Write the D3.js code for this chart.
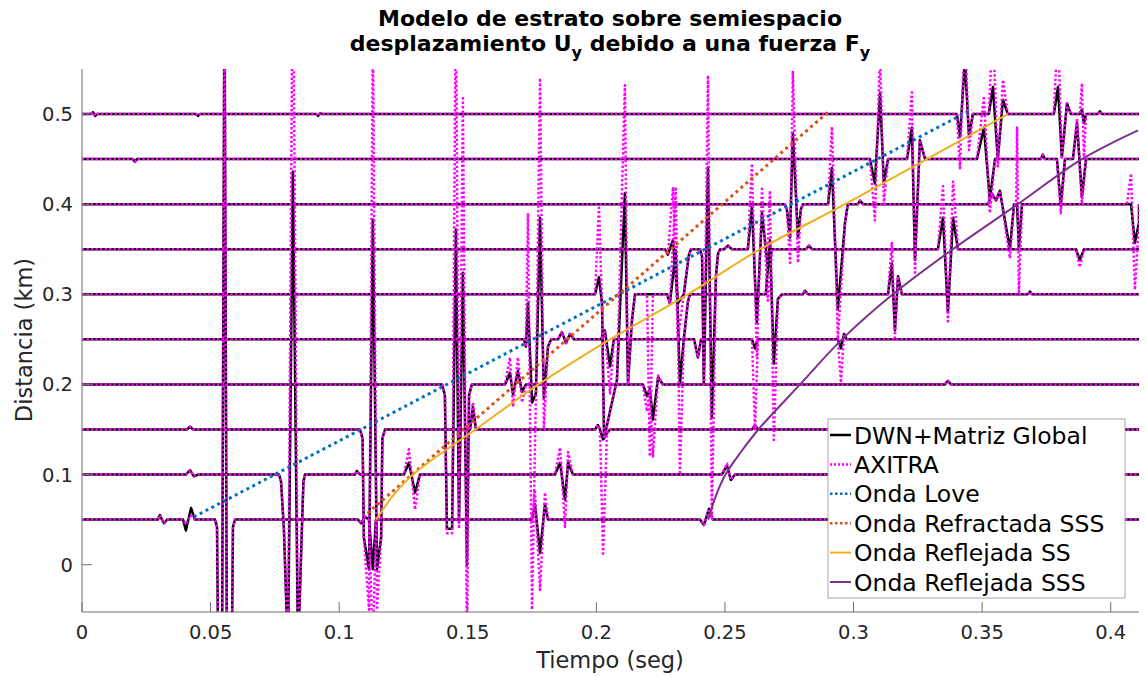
<!DOCTYPE html>
<html><head><meta charset="utf-8">
<script src="https://cdn.jsdelivr.net/npm/d3@7"></script>
<style>body{margin:0;background:#fff;} text{font-family:"DejaVu Sans",sans-serif;}</style>
</head><body><svg id="c" width="1147" height="677"></svg>
<script>
// ---------- data ----------
const distances = [0.05, 0.10, 0.15, 0.20, 0.25, 0.30, 0.35, 0.40, 0.45, 0.50];
const timeTicks = [0, 0.05, 0.1, 0.15, 0.2, 0.25, 0.3, 0.35, 0.4];
const distTicks = [0, 0.1, 0.2, 0.3, 0.4, 0.5];
const legendLabels = ["DWN+Matriz Global", "AXITRA", "Onda Love", "Onda Refractada SSS", "Onda Reflejada SS", "Onda Reflejada SSS"];

// trace vertices: [time (s), offset DWN (km), offset AXITRA (km)]
const trace05 = [
[0.0295,0,0],[0.0303,0.005,0.005],[0.0311,0,0],[0.0319,-0.004,-0.004],[0.0331,0,0],
[0.0393,0,0],[0.0404,-0.012,-0.005],[0.0424,0.013,0.005],[0.0439,0,0],
[0.0517,0,0],[0.0525,-0.008,-0.008],[0.0531,-0.2,-0.2],[0.0544,-0.2,-0.2],[0.0554,0.6,0.6],[0.0564,-0.2,-0.2],[0.0581,-0.2,-0.2],[0.0587,-0.008,-0.008],[0.0595,0,0],
[0.1073,0,0],[0.1085,-0.004,-0.004],[0.1100,0.003,0.003],[0.1116,0,0],[0.1131,-0.055,-0.15],[0.1143,0,0],
[0.1750,0,0],[0.1761,0.017,0.033],[0.1781,-0.037,-0.078],[0.1800,0.017,0.03],[0.1812,0,0],
[0.2403,0,0],[0.2418,-0.006,-0.006],[0.2438,0.012,0.012],[0.2453,0,0]];
const trace10 = [
[0.0404,0,0],[0.0420,0.005,0.005],[0.0435,-0.002,-0.002],[0.0451,0,0],
[0.0766,0,0],[0.0774,-0.008,-0.008],[0.0785,-0.06,-0.06],[0.0801,-0.2,-0.2],[0.0820,0.336,0.6],[0.0840,-0.2,-0.2],[0.0855,-0.06,-0.06],[0.0861,-0.008,-0.008],[0.0867,0,0],
[0.1061,0,0],[0.1069,0.004,0.004],[0.1081,0,0],
[0.1252,0,0],[0.1271,0.013,0.028],[0.1295,-0.02,-0.039],[0.1314,0,0],
[0.1839,0,0],[0.1859,0.013,0.03],[0.1878,-0.028,-0.058],[0.1890,0.013,0.025],[0.1909,0,0],
[0.2488,0,0],[0.2508,0.01,0.012],[0.2523,-0.006,-0.006],[0.2539,0,0]];
const trace15 = [
[0.0408,0,0],[0.0420,0.003,0.003],[0.0432,0,0],
[0.1081,0,0],[0.1091,-0.01,-0.01],[0.1096,-0.12,-0.12],[0.1116,-0.155,-0.2],[0.1131,0.233,0.45],[0.1147,-0.155,-0.2],[0.1163,-0.12,-0.12],[0.1168,-0.01,-0.01],[0.1178,0,0],
[0.1509,0,0],[0.1520,0.025,0.03],[0.1532,0,0],
[0.1995,0,0],[0.2006,0.005,0.005],[0.2014,0,0],[0.2026,-0.011,-0.14],[0.2041,-0.004,-0.004],[0.2053,0,0],
[0.2605,0,0],[0.2617,0.005,0.005],[0.2628,0,0]];
const trace20 = [
[0.1400,0,0],[0.1411,-0.012,-0.012],[0.1419,-0.16,-0.165],[0.1439,-0.16,-0.165],[0.1454,0.172,0.45],[0.1466,-0.153,-0.16],[0.1481,0.124,0.32],[0.1497,-0.2,-0.3],[0.1505,-0.012,-0.012],[0.1516,0,0],
[0.1645,0,0],[0.1664,0.013,0.03],[0.1676,-0.011,-0.025],[0.1695,0.015,0.03],[0.1711,-0.008,-0.02],[0.1726,0,0],
[0.2181,0,0],[0.2197,-0.013,-0.03],[0.2208,-0.005,-0.005],[0.2220,-0.039,-0.08],[0.2240,0.008,0.01],[0.2259,0,0],
[0.3355,0,0],[0.3367,0.004,0.004],[0.3379,0,0]];
const trace25 = [
[0.1719,0,0],[0.1726,-0.008,-0.008],[0.1734,0.04,0.14],[0.1750,-0.07,-0.3],[0.1765,-0.06,-0.06],[0.1781,0.135,0.29],[0.1796,-0.065,-0.1],[0.1812,-0.008,-0.008],[0.1824,0,0],
[0.1851,0,0],[0.1866,0.008,0.008],[0.1882,-0.004,-0.004],[0.1897,0.006,0.006],[0.1913,0,0],
[0.2018,0,0],[0.2033,0.01,0.01],[0.2053,-0.03,-0.06],[0.2068,0,0],
[0.2380,0,0],[0.2395,-0.02,-0.02],[0.2407,0,0],
[0.2605,0,0],[0.2617,-0.01,-0.1],[0.2628,0,0],
[0.2939,0,0],[0.2951,-0.01,-0.048],[0.2963,0.006,0.006],[0.2974,0,0]];
const trace30 = [
[0.1995,0,0],[0.2010,0.019,0.096],[0.2022,-0.01,-0.01],[0.2030,-0.16,-0.16],[0.2053,-0.13,-0.13],[0.2080,-0.095,-0.095],[0.2111,0.112,0.232],[0.2123,-0.1,-0.1],[0.2138,-0.03,-0.03],[0.2150,0,0],
[0.2197,0,0],[0.2208,0,-0.18],[0.2220,0,0],
[0.2275,0,0],[0.2286,-0.01,-0.01],[0.2309,0.049,0.119],[0.2325,-0.099,-0.2],[0.2340,-0.05,-0.05],[0.2356,-0.008,-0.008],[0.2364,0,0],
[0.2659,0,0],[0.2675,0.06,0.115],[0.2690,-0.077,-0.164],[0.2706,-0.005,-0.005],[0.2722,0,0],
[0.2803,0,0],[0.2811,0.004,0.004],[0.2823,0,0],
[0.3134,0,0],[0.3149,0.034,0.058],[0.3161,-0.04,-0.048],[0.3173,0.02,0.02],[0.3188,0,0],
[0.3678,0,0],[0.3686,0.003,0.003],[0.3694,0,0]];
const trace35 = [
[0.2267,0,0],[0.2278,-0.006,-0.006],[0.2298,0.01,0.069],[0.2317,-0.06,-0.1],[0.2340,-0.05,-0.05],[0.2360,-0.006,-0.006],[0.2368,0,0],
[0.2403,0,0],[0.2411,-0.008,-0.008],[0.2418,-0.15,-0.15],[0.2434,0.091,0.193],[0.2449,-0.187,-0.3],[0.2465,-0.03,-0.03],[0.2473,-0.005,-0.005],[0.2481,0,0],
[0.2496,0,0],[0.2512,0.004,0.004],[0.2527,0,0],
[0.2589,0,0],[0.2605,0.047,0.095],[0.2624,-0.082,-0.12],[0.2644,0.04,0.067],[0.2667,-0.02,-0.057],[0.2683,0,0],
[0.2815,0,0],[0.2827,0.004,0.004],[0.2838,0,0],
[0.3328,0,0],[0.3348,0.035,0.07],[0.3367,-0.07,-0.08],[0.3387,0.035,0.075],[0.3406,0,0],
[0.3865,0,0],[0.3880,-0.012,-0.02],[0.3896,0,0]];
const trace40 = [
[0.2733,0,0],[0.2741,-0.006,-0.006],[0.2753,-0.037,-0.065],[0.2764,0.079,0.148],[0.2784,-0.037,-0.065],[0.2795,-0.006,-0.006],[0.2803,0,0],
[0.2901,0,0],[0.2916,0.04,0.086],[0.2939,-0.117,-0.15],[0.2967,-0.02,-0.02],[0.2978,0,0],
[0.3017,0,0],[0.3025,0.004,0.004],[0.3037,0,0],
[0.3523,0,0],[0.3538,0.012,0.012],[0.3554,0.004,0.004],[0.3569,0.015,0.015],[0.3608,-0.05,-0.06],[0.3624,0,0],
[0.3632,0,0],[0.3636,0,0.085],[0.3643,-0.05,-0.1],[0.3655,0,0],
[0.4063,0,0],[0.4079,0,0.034],[0.4094,-0.043,-0.095],[0.4110,-0.02,-0.02]];
const trace45 = [
[0.0198,0,0],[0.0206,-0.003,-0.003],[0.0214,0,0],
[0.3064,0,0],[0.3083,-0.027,-0.068],[0.3103,0.073,0.12],[0.3118,-0.027,-0.05],[0.3134,0,0],
[0.3208,0,0],[0.3227,0.035,0.074],[0.3239,-0.112,-0.126],[0.3258,0.021,0.021],[0.3278,0,0],
[0.3480,0,0],[0.3507,0.035,0.07],[0.3530,-0.045,-0.06],[0.3550,0,0],
[0.3728,0,0],[0.3736,0.005,0.005],[0.3744,0,0],
[0.3791,0,0],[0.3806,-0.052,-0.06],[0.3822,0,0],
[0.3853,0,0],[0.3869,0.04,0.045],[0.3888,-0.042,-0.05],[0.3904,0,0]];
const trace50 = [
[0.0035,0,0],[0.0043,0.002,0.002],[0.0051,-0.002,-0.002],[0.0058,0,0],
[0.0443,0,0],[0.0451,-0.002,-0.002],[0.0459,0,0],
[0.0910,0,0],[0.0918,-0.002,-0.002],[0.0926,0.001,0.001],[0.0934,0,0],
[0.3402,0,0],[0.3414,-0.025,-0.06],[0.3433,0.06,0.1],[0.3449,-0.025,-0.04],[0.3464,0,0],
[0.3526,0,0],[0.3542,0.03,0.1],[0.3561,-0.05,-0.058],[0.3581,0.016,0.038],[0.3600,0,0],
[0.3779,0,0],[0.3795,0.03,0.1],[0.3810,-0.048,-0.05],[0.3830,0.012,0.012],[0.3845,0,0],
[0.3880,0,0],[0.3888,0.005,0.034],[0.3896,-0.01,-0.05],[0.3904,0,0],
[0.3950,0,0],[0.3958,0.003,0.003],[0.3966,0,0]];
const traces = [trace05, trace10, trace15, trace20, trace25, trace30, trace35, trace40, trace45, trace50];

// wave-front lines: [time, distance]
const ondaLove = [[0.0435, 0.053], [0.346, 0.505]];
const ondaRefractadaSSS = [[0.111, 0.057], [0.290, 0.502]];
const ondaReflejadaSS = [[0.1145,0.05],[0.1205,0.075],[0.1287,0.1],[0.1530,0.15],[0.1775,0.2],[0.2053,0.25],[0.2356,0.3],[0.2636,0.35],[0.2967,0.4],[0.3285,0.45],[0.3600,0.5]];
const ondaReflejadaSSS = [[0.2435,0.05],[0.2463,0.075],[0.2502,0.1],[0.2562,0.125],[0.2630,0.15],[0.2792,0.2],[0.2955,0.25],[0.3153,0.3],[0.3386,0.35],[0.3639,0.4],[0.3888,0.45],[0.4106,0.482]];

// ---------- drawing ----------
const tMax = 0.411;
const svg = d3.select('#c');
const x = d3.scaleLinear().domain([0, tMax]).range([82, 1139]);
const y = d3.scaleLinear().domain([-0.0525, 0.55]).range([612, 69]);

svg.append('defs').append('clipPath').attr('id', 'pc').append('rect')
  .attr('x', x(0)).attr('y', y(0.55)).attr('width', x(tMax) - x(0)).attr('height', y(-0.0525) - y(0.55));
const plot = svg.append('g').attr('clip-path', 'url(#pc)');

const styles = {
  dwn: {stroke: '#000000', width: 2.5, dash: null},
  axitra: {stroke: '#ff00ff', width: 2.5, dash: '2.3 2.2'},
  love: {stroke: '#0072BD', width: 3, dash: '3 3.6'},
  refr: {stroke: '#D95319', width: 3, dash: '3 3.6'},
  ss: {stroke: '#EDB120', width: 2, dash: null},
  sss: {stroke: '#7E2F8E', width: 2, dash: null}
};
function styleIt(sel, s) {
  sel.attr('fill', 'none').attr('stroke', s.stroke).attr('stroke-width', s.width).attr('stroke-linejoin', 'round');
  if (s.dash) sel.attr('stroke-dasharray', s.dash);
  return sel;
}

const full = tr => [[0, 0, 0], ...tr, [tMax, 0, 0]];
traces.forEach((tr, i) => {
  const line = d3.line().x(p => x(p[0])).y(p => y(distances[i] + p[1]));
  styleIt(plot.append('path').attr('d', line(full(tr))), styles.dwn);
});
traces.forEach((tr, i) => {
  const line = d3.line().x(p => x(p[0])).y(p => y(distances[i] + p[2]));
  styleIt(plot.append('path').attr('d', line(full(tr))), styles.axitra);
});

const wl = d3.line().x(p => x(p[0])).y(p => y(p[1]));
const wc = d3.line().x(p => x(p[0])).y(p => y(p[1])).curve(d3.curveCatmullRom.alpha(0.5));
styleIt(plot.append('path').attr('d', wl(ondaLove)), styles.love);
styleIt(plot.append('path').attr('d', wl(ondaRefractadaSSS)), styles.refr);
styleIt(plot.append('path').attr('d', wc(ondaReflejadaSS)), styles.ss);
styleIt(plot.append('path').attr('d', wc(ondaReflejadaSSS)), styles.sss);

// axes
const axisColor = '#6e6e6e', textColor = '#262626';
svg.append('line').attr('x1', x(0)).attr('x2', x(0)).attr('y1', y(0.55)).attr('y2', y(-0.0525)).attr('stroke', axisColor).attr('stroke-width', 1);
svg.append('line').attr('x1', x(0)).attr('x2', x(tMax)).attr('y1', y(-0.0525)).attr('y2', y(-0.0525)).attr('stroke', axisColor).attr('stroke-width', 1);
timeTicks.forEach(t => {
  svg.append('line').attr('x1', x(t)).attr('x2', x(t)).attr('y1', 612).attr('y2', 602).attr('stroke', axisColor);
  svg.append('text').attr('x', x(t)).attr('y', 639).attr('text-anchor', 'middle').attr('font-size', 19.5).attr('fill', textColor).text(String(t));
});
distTicks.forEach(d => {
  svg.append('line').attr('x1', 82).attr('x2', 92).attr('y1', y(d)).attr('y2', y(d)).attr('stroke', axisColor);
  svg.append('text').attr('x', 73).attr('y', y(d) + 7).attr('text-anchor', 'end').attr('font-size', 19.5).attr('fill', textColor).text(String(d));
});
svg.append('text').attr('x', 610).attr('y', 668).attr('text-anchor', 'middle').attr('font-size', 22.5).attr('fill', textColor).text('Tiempo (seg)');
svg.append('text').attr('transform', 'translate(32,340) rotate(-90)').attr('text-anchor', 'middle').attr('font-size', 22.5).attr('fill', textColor).text('Distancia (km)');

// title
svg.append('text').attr('x', 610).attr('y', 26).attr('text-anchor', 'middle').attr('font-size', 22).attr('font-weight', 'bold').attr('fill', '#000').text('Modelo de estrato sobre semiespacio');
const t2 = svg.append('text').attr('x', 610).attr('y', 51).attr('text-anchor', 'middle').attr('font-size', 22).attr('font-weight', 'bold').attr('fill', '#000');
t2.append('tspan').text('desplazamiento U');
t2.append('tspan').attr('dy', 7).attr('font-size', 16).text('y');
t2.append('tspan').attr('dy', -7).text(' debido a una fuerza F');
t2.append('tspan').attr('dy', 7).attr('font-size', 16).text('y');

// legend
const lg = svg.append('g');
lg.append('rect').attr('x', 828).attr('y', 419).attr('width', 297).attr('height', 179).attr('fill', '#fff').attr('stroke', '#a6a6a6').attr('stroke-width', 1);
const legStyles = [styles.dwn, styles.axitra, styles.love, styles.refr, styles.ss, styles.sss];
legendLabels.forEach((lab, i) => {
  const yc = 435 + i * 29.4;
  const s = Object.assign({}, legStyles[i]);
  if (i === 1) s.dash = '2 2';
  if (i === 2 || i === 3) { s.width = 2.5; s.dash = '2.5 2.5'; }
  styleIt(lg.append('line').attr('x1', 830).attr('x2', 851).attr('y1', yc).attr('y2', yc), s);
  lg.append('text').attr('x', 854).attr('y', yc + 8.5).attr('font-size', 23.5).attr('fill', '#000').text(lab);
});
</script></body></html>
